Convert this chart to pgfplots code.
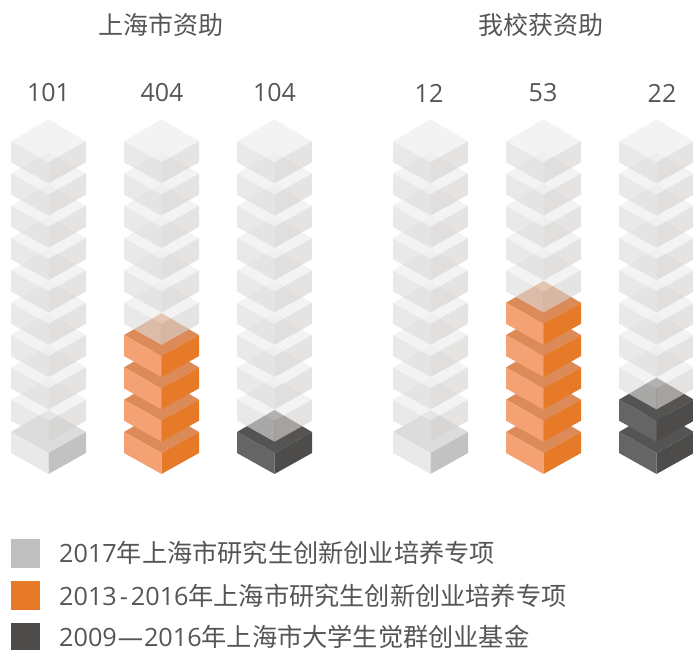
\documentclass[border=0pt]{standalone}
\usepackage{fontspec}
\setmainfont{Open Sans}
\newfontfamily\cjk{Noto Sans CJK SC}
\usepackage{pgfplots}
\pgfplotsset{compat=1.18}
\definecolor{txt}{HTML}{555555}
\definecolor{gT}{HTML}{ECECEC}\definecolor{gL}{HTML}{DCDCDC}\definecolor{gR}{HTML}{D7D3D0}
\definecolor{oT}{HTML}{DC8A58}\definecolor{oL}{HTML}{F4A273}\definecolor{oR}{HTML}{E67A28}
\definecolor{kT}{HTML}{555453}\definecolor{kL}{HTML}{666565}\definecolor{kR}{HTML}{4D4C4B}
\definecolor{sT}{HTML}{DCDCDC}\definecolor{sL}{HTML}{E9E9E9}\definecolor{sR}{HTML}{C2C2C2}
% #1 column centre, #2 level from the bottom, #3 #4 #5 face colours, #6 opacity
\newcommand\cube[6]{%
 \addplot[draw=none,fill=#3,fill opacity=#6] coordinates {({#1-37.5},{650-(474-32.3*#2)+42}) ({#1},{650-(474-32.3*#2)+21}) ({#1+37.5},{650-(474-32.3*#2)+42}) ({#1},{650-(474-32.3*#2)+64})} --cycle;
 \addplot[draw=none,fill=#4,fill opacity=#6] coordinates {({#1-37.5},{650-(474-32.3*#2)+42}) ({#1},{650-(474-32.3*#2)+21}) ({#1},{650-(474-32.3*#2)}) ({#1-37.5},{650-(474-32.3*#2)+21})} --cycle;
 \addplot[draw=none,fill=#5,fill opacity=#6] coordinates {({#1+37.5},{650-(474-32.3*#2)+42}) ({#1},{650-(474-32.3*#2)+21}) ({#1},{650-(474-32.3*#2)}) ({#1+37.5},{650-(474-32.3*#2)+21})} --cycle;
}
\newcommand\ghost[2]{\cube{#1}{#2}{gT}{gL}{gR}{0.62}}
\newcommand\sq[3]{\addplot[draw=none,fill=#1] coordinates {(11,{650-#2}) (40,{650-#2}) (40,{650-#3}) (11,{650-#3})} --cycle;}
\begin{document}
\begin{tikzpicture}[x=1pt,y=1pt]
\begin{axis}[at={(0,0)},anchor=south west,scale only axis,width=693pt,height=650pt,
 xmin=0,xmax=693,ymin=0,ymax=650,axis lines=none,clip=true,
 nodes={font=\fontsize{25}{29}\selectfont,text=txt,inner sep=0pt}]
% 上海市资助 101 (1 block)
\cube{48.5}{0}{sT}{sL}{sR}{1}
\pgfplotsinvokeforeach{1,...,9}{\ghost{48.5}{#1}}
% 404 (4 blocks)
\pgfplotsinvokeforeach{0,...,3}{\cube{161.5}{#1}{oT}{oL}{oR}{1}}
\pgfplotsinvokeforeach{4,...,9}{\ghost{161.5}{#1}}
% 104 (1 block)
\cube{274.5}{0}{kT}{kL}{kR}{1}
\pgfplotsinvokeforeach{1,...,9}{\ghost{274.5}{#1}}
% 我校获资助 12 (1 block)
\cube{430.5}{0}{sT}{sL}{sR}{1}
\pgfplotsinvokeforeach{1,...,9}{\ghost{430.5}{#1}}
% 53 (5 blocks)
\pgfplotsinvokeforeach{0,...,4}{\cube{543.5}{#1}{oT}{oL}{oR}{1}}
\pgfplotsinvokeforeach{5,...,9}{\ghost{543.5}{#1}}
% 22 (2 blocks)
\pgfplotsinvokeforeach{0,...,1}{\cube{656.5}{#1}{kT}{kL}{kR}{1}}
\pgfplotsinvokeforeach{2,...,9}{\ghost{656.5}{#1}}
% legend swatches
\sq{black!25}{539}{568}
\sq{oR}{581}{610}
\sq{kR}{623}{650}
\node at (axis cs:161,625) {\cjk 上海市资助};
\node at (axis cs:541,625) {\cjk 我校获资助};
\node at (axis cs:48.5,557) {101};
\node at (axis cs:162,557) {404};
\node at (axis cs:274.5,557) {104};
\node at (axis cs:429,557) {12};
\node at (axis cs:543,557) {53};
\node at (axis cs:662,557) {22};
\node[anchor=west,font=\fontsize{25.2}{29}\selectfont] at (axis cs:59,97) {2017{\cjk 年上海市研究生创新创业培养专项}};
\node[anchor=west,font=\fontsize{25.2}{29}\selectfont] at (axis cs:59,54) {2013\kern3pt-\kern3pt 2016{\cjk 年上海市研究生创新创业培养专项}};
\node[anchor=west,font=\fontsize{25.2}{29}\selectfont] at (axis cs:59,13) {2009\kern1pt—\kern1pt 2016{\cjk 年上海市大学生觉群创业基金}};
\end{axis}
\pgfresetboundingbox
\path[use as bounding box] (0,0) rectangle (693pt,650pt);
\end{tikzpicture}
\end{document}
